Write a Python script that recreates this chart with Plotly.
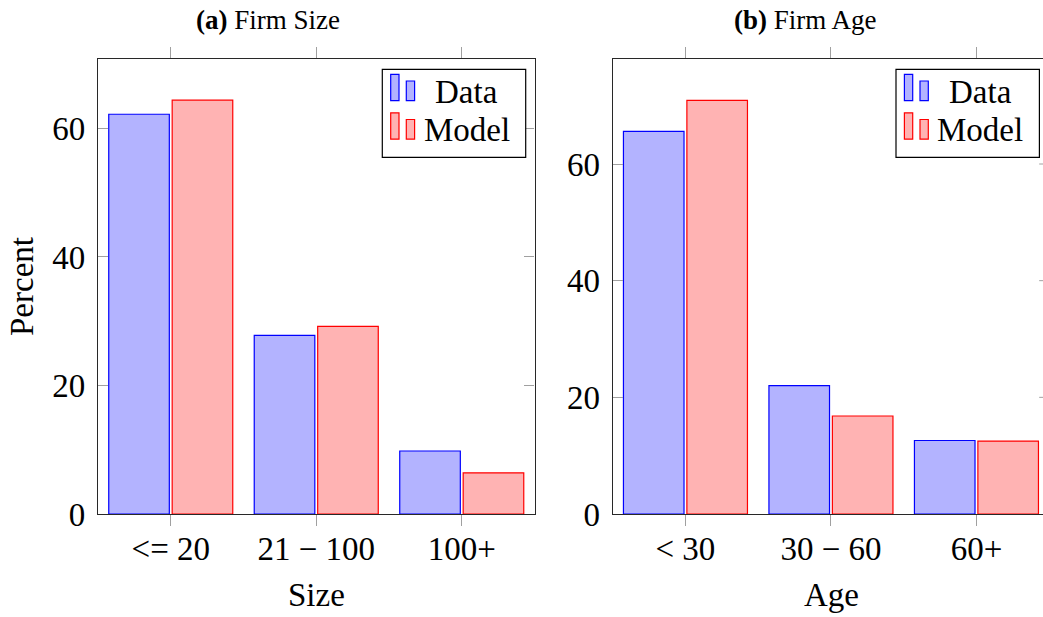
import plotly.graph_objects as go

# ---- data ----
size_labels = ["<= 20", "21 \u2212 100", "100+"]
size_data = [62.2, 27.8, 9.8]
size_model = [64.4, 29.2, 6.4]

age_labels = ["< 30", "30 \u2212 60", "60+"]
age_data = [65.6, 22.0, 12.6]
age_model = [70.9, 16.8, 12.5]

y_ticks = [0, 20, 40, 60]

# ---- page geometry (pixels) ----
W, H = 1043, 617
FONT = "Liberation Serif"
BLUE_FILL, BLUE_LINE = "rgb(179,179,255)", "rgb(0,0,255)"
RED_FILL, RED_LINE = "rgb(255,179,179)", "rgb(255,0,0)"
AXIS_COL, TICK_COL = "rgb(40,40,40)", "rgb(160,160,160)"

def px(x):
    return x / W

def py(y):
    return 1 - y / H

PLOT_TOP, PLOT_BOT = 59, 514
L_X0, L_X1 = 98, 534.5
R_X0, R_X1 = 612.7, W
UNIT = (L_X1 - L_X0) / 3.0  # pixels per category

fig = go.Figure()

def add_panel(labels, data, model, xa, ya):
    fig.add_trace(go.Bar(x=list(range(len(labels))), y=data, name="Data",
                         marker=dict(color=BLUE_FILL, line=dict(color=BLUE_LINE, width=1.2)),
                         xaxis=xa, yaxis=ya, showlegend=False))
    fig.add_trace(go.Bar(x=list(range(len(labels))), y=model, name="Model",
                         marker=dict(color=RED_FILL, line=dict(color=RED_LINE, width=1.2)),
                         xaxis=xa, yaxis=ya, showlegend=False))

add_panel(size_labels, size_data, size_model, "x", "y")
add_panel(age_labels, age_data, age_model, "x2", "y2")

xcommon = dict(showgrid=False, zeroline=False, showline=True, linecolor=AXIS_COL, linewidth=1.2,
               ticks="outside", ticklen=11, tickcolor=TICK_COL, tickwidth=1,
               tickfont=dict(family=FONT, size=33, color="black"), ticklabelstandoff=-6,
               automargin=False, fixedrange=True)
ycommon = dict(showgrid=False, zeroline=False, showline=True, linecolor=AXIS_COL, linewidth=1.2,
               ticks="inside", ticklen=10, tickcolor=TICK_COL, tickwidth=1,
               tickvals=y_ticks, tickfont=dict(family=FONT, size=33, color="black"),
               ticklabelstandoff=5, automargin=False, fixedrange=True)

r_right = -0.5 + (R_X1 - R_X0) / UNIT

fig.update_layout(
    width=W, height=H,
    margin=dict(l=0, r=0, t=0, b=0),
    paper_bgcolor="white", plot_bgcolor="white",
    barmode="group", bargap=0.128, bargroupgap=0.045,
    font=dict(family=FONT, color="black"),
    xaxis=dict(xcommon, domain=[px(L_X0), px(L_X1)], range=[-0.5, 2.5],
               tickvals=[0, 1, 2], ticktext=size_labels, mirror="ticks", anchor="y"),
    yaxis=dict(ycommon, domain=[py(PLOT_BOT), py(PLOT_TOP)], range=[0, 70.8],
               mirror="ticks", anchor="x"),
    xaxis2=dict(xcommon, domain=[px(R_X0), 1.0], range=[-0.5, r_right],
                tickvals=[0, 1, 2], ticktext=age_labels, mirror="ticks", anchor="y2"),
    yaxis2=dict(ycommon, domain=[py(PLOT_BOT), py(PLOT_TOP)], range=[0, 78.0],
                mirror=False, anchor="x2"),
)

# right-hand inner ticks of panel (b): the frame edge sits at x = 2.5
for t in y_ticks[1:]:
    fig.add_shape(type="line", xref="x2", yref="y2",
                  x0=2.5 - 10 / UNIT, x1=r_right, y0=t, y1=t,
                  line=dict(color=TICK_COL, width=1))

annotations = [
    dict(text="<b>(a)</b> Firm Size", x=px(267.5), y=py(20), size=27),
    dict(text="<b>(b)</b> Firm Age", x=px(805), y=py(20), size=27),
    dict(text="Size", x=px(316.5), y=py(595), size=33),
    dict(text="Age", x=px(831.5), y=py(595), size=33),
]
for a in annotations:
    fig.add_annotation(text=a["text"], x=a["x"], y=a["y"], xref="paper", yref="paper",
                       xanchor="center", yanchor="middle", showarrow=False,
                       font=dict(family=FONT, size=a["size"], color="black"))
fig.add_annotation(text="Percent", x=px(21.5), y=py(286.5), xref="paper", yref="paper",
                   xanchor="center", yanchor="middle", showarrow=False, textangle=-90,
                   font=dict(family=FONT, size=33, color="black"))

# legends drawn as boxes with twin bar icons
def add_legend(x0):
    fig.add_shape(type="rect", xref="paper", yref="paper",
                  x0=px(x0), x1=px(x0 + 143.4), y0=py(69.3), y1=py(157.3),
                  line=dict(color="black", width=1.2), fillcolor="white", layer="above")
    entries = [("Data", BLUE_FILL, BLUE_LINE, 0.0), ("Model", RED_FILL, RED_LINE, 38.5)]
    for name, fill, line, dy in entries:
        for ix, top in ((8.4, 74.3), (24.0, 81.0)):
            fig.add_shape(type="rect", xref="paper", yref="paper",
                          x0=px(x0 + ix), x1=px(x0 + ix + 8.3),
                          y0=py(top + dy), y1=py(100.7 + dy),
                          line=dict(color=line, width=1.2), fillcolor=fill, layer="above")
        fig.add_annotation(text=name, x=px(x0 + 84.3), y=py(91.5 + dy), xref="paper", yref="paper",
                           xanchor="center", yanchor="middle", showarrow=False,
                           font=dict(family=FONT, size=33, color="black"))

add_legend(382.3)
add_legend(896.0)

fig.write_html("out.html")
